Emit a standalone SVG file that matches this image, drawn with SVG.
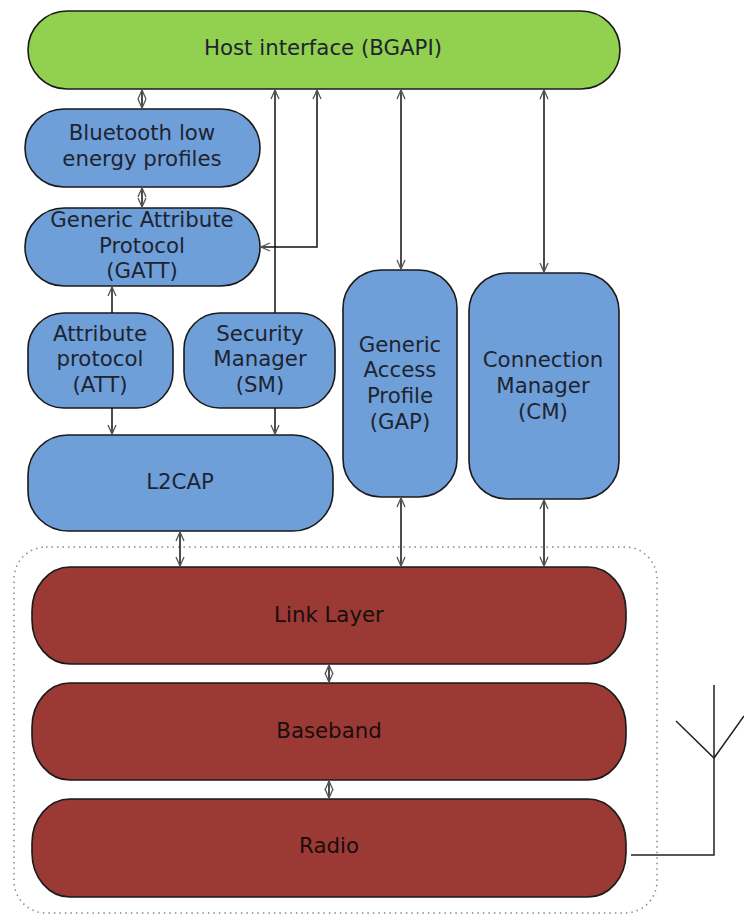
<svg xmlns="http://www.w3.org/2000/svg" width="744" height="915" viewBox="0 0 744 915">
<defs>
<style>
.n{stroke:#1a1a1a;stroke-width:1.6}
.g{fill:#92d050}
.b{fill:#6f9fd9}
.r{fill:#9b3a35}
.t{font-family:"DejaVu Sans",Verdana,sans-serif;font-size:21.3px;fill:#1e2430;text-anchor:middle}
.tr{fill:#1a0d0c}
.c{fill:none;stroke:#111;stroke-width:1.5}
</style>
<marker id="a" viewBox="0 0 10 10" refX="10" refY="5" markerWidth="10" markerHeight="10" markerUnits="userSpaceOnUse" orient="auto-start-reverse">
<path d="M1,1 L10,5 L1,9" fill="none" stroke="#555" stroke-width="1.3"/>
</marker>
</defs>
<rect width="744" height="915" fill="#fff"/>
<rect x="14" y="547" width="643" height="366" rx="32" ry="32" fill="none" stroke="#888" stroke-width="1.5" stroke-dasharray="1.5,4"/>
<g id="host"><rect class="n g" x="28" y="11" width="592" height="78" rx="39" ry="39"/><text class="t" x="323" y="55">Host interface (BGAPI)</text></g>
<g id="profiles"><rect class="n b" x="25" y="109" width="235" height="78" rx="39" ry="39"/><text class="t" x="142" y="140">Bluetooth low</text><text class="t" x="142" y="166">energy profiles</text></g>
<g id="gatt"><rect class="n b" x="25" y="208" width="235" height="78" rx="39" ry="39"/><text class="t" x="142" y="227">Generic Attribute</text><text class="t" x="142" y="253">Protocol</text><text class="t" x="142" y="278">(GATT)</text></g>
<g id="att"><rect class="n b" x="28" y="313" width="145" height="95" rx="36" ry="36"/><text class="t" x="100" y="341">Attribute</text><text class="t" x="100" y="366">protocol</text><text class="t" x="100" y="392">(ATT)</text></g>
<g id="sm"><rect class="n b" x="184" y="313" width="151" height="95" rx="36" ry="36"/><text class="t" x="260" y="341">Security</text><text class="t" x="260" y="366">Manager</text><text class="t" x="260" y="392">(SM)</text></g>
<g id="l2cap"><rect class="n b" x="28" y="435" width="305" height="96" rx="40" ry="40"/><text class="t" x="180" y="489">L2CAP</text></g>
<g id="gap"><rect class="n b" x="343" y="270" width="114" height="227" rx="38" ry="38"/><text class="t" x="400" y="352">Generic</text><text class="t" x="400" y="377">Access</text><text class="t" x="400" y="403">Profile</text><text class="t" x="400" y="429">(GAP)</text></g>
<g id="cm"><rect class="n b" x="469" y="273" width="150" height="226" rx="38" ry="38"/><text class="t" x="543" y="367">Connection</text><text class="t" x="543" y="393">Manager</text><text class="t" x="543" y="419">(CM)</text></g>
<g id="linklayer"><rect class="n r" x="32" y="567" width="594" height="97" rx="38" ry="44"/><text class="t tr" x="329" y="622">Link Layer</text></g>
<g id="baseband"><rect class="n r" x="32" y="683" width="594" height="97" rx="38" ry="44"/><text class="t tr" x="329" y="738">Baseband</text></g>
<g id="radio"><rect class="n r" x="32" y="799" width="594" height="98" rx="38" ry="44"/><text class="t tr" x="329" y="853">Radio</text></g>
<g id="antenna" fill="none" stroke="#222" stroke-width="1.5"><path d="M631,855 H714 V685"/><path d="M676,721 L714,758 L744,716"/></g>
<g id="connectors">
<line class="c" x1="142" y1="90" x2="142" y2="108" marker-start="url(#a)" marker-end="url(#a)"/>
<line class="c" x1="142" y1="188" x2="142" y2="207" marker-start="url(#a)" marker-end="url(#a)"/>
<line class="c" x1="275" y1="313" x2="275" y2="90" marker-end="url(#a)"/>
<polyline class="c" points="317,90 317,247 261,247" marker-start="url(#a)" marker-end="url(#a)"/>
<line class="c" x1="112" y1="313" x2="112" y2="287" marker-end="url(#a)"/>
<line class="c" x1="112" y1="408" x2="112" y2="434" marker-end="url(#a)"/>
<line class="c" x1="275" y1="408" x2="275" y2="434" marker-end="url(#a)"/>
<line class="c" x1="180" y1="532" x2="180" y2="566" marker-start="url(#a)" marker-end="url(#a)"/>
<line class="c" x1="401" y1="90" x2="401" y2="269" marker-start="url(#a)" marker-end="url(#a)"/>
<line class="c" x1="544" y1="90" x2="544" y2="272" marker-start="url(#a)" marker-end="url(#a)"/>
<line class="c" x1="401" y1="498" x2="401" y2="566" marker-start="url(#a)" marker-end="url(#a)"/>
<line class="c" x1="544" y1="500" x2="544" y2="566" marker-start="url(#a)" marker-end="url(#a)"/>
<line class="c" x1="329" y1="665" x2="329" y2="682" marker-start="url(#a)" marker-end="url(#a)"/>
<line class="c" x1="329" y1="781" x2="329" y2="798" marker-start="url(#a)" marker-end="url(#a)"/>
</g>
</svg>
